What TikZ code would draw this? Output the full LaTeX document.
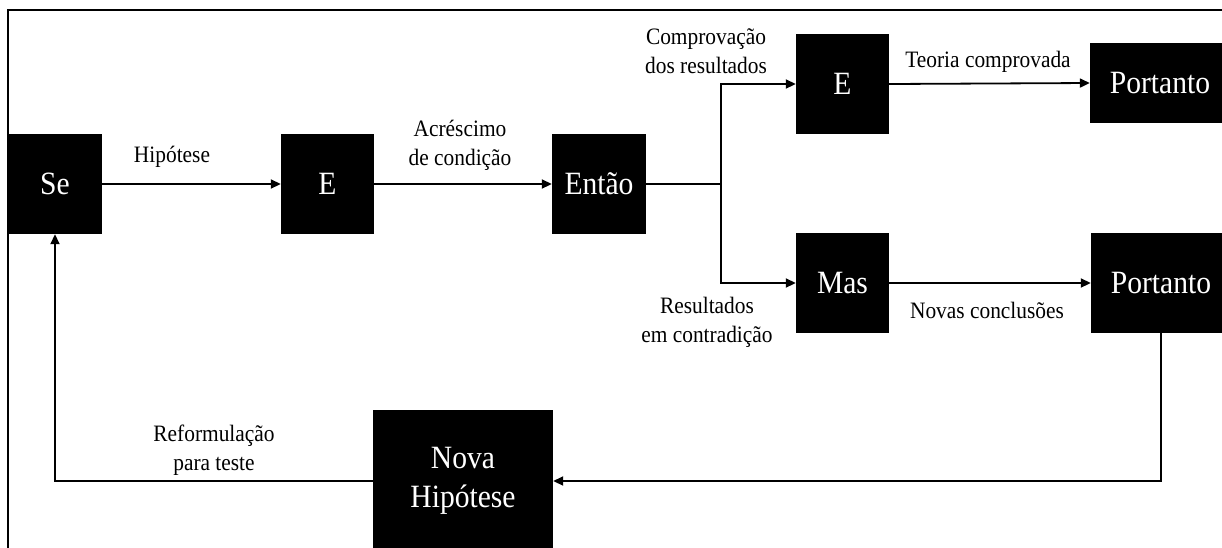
\documentclass[tikz,border=0pt]{standalone}
\usepackage{fontspec}
\setmainfont{Liberation Serif}[FakeStretch=0.91]
\usetikzlibrary{arrows.meta}
\begin{document}
\begin{tikzpicture}[x=1pt,y=-1pt,
  blk/.style={fill=black,draw=none,text=white,inner sep=0pt,font=\fontsize{32.5}{39}\selectfont,align=center},
  lbl/.style={inner sep=0pt,align=center,font=\fontsize{23.5}{29}\selectfont},
  conn/.style={line width=1.8pt,-{Triangle[length=10pt,width=9pt]}},
  plain/.style={line width=1.8pt}]
\useasboundingbox (0,0) rectangle (1222,547);
\draw[line width=1.6pt] (8,560) -- (8,10) -- (1240,10);
% boxes
\node[blk,minimum width=94pt,minimum height=100pt] (se) at (55,184) {Se};
\node[blk,minimum width=93pt,minimum height=100pt] (e1) at (327.5,184) {E};
\node[blk,minimum width=94pt,minimum height=100pt] (entao) at (599,184) {Então};
\node[blk,minimum width=93pt,minimum height=100pt] (e2) at (842.5,84) {E};
\node[blk,minimum width=93pt,minimum height=100pt] (mas) at (842.5,283) {Mas};
\node[blk,minimum width=140pt,minimum height=80pt] (p1) at (1160,83) {Portanto};
\node[blk,minimum width=140pt,minimum height=100pt] (p2) at (1161,283) {Portanto};
\node[blk,minimum width=180pt,minimum height=142pt] (nova) at (463,481) {Nova\\Hipótese};
\coordinate (branch) at (721,184);
% connectors
\draw[conn] (se.east) -- (e1.west);
\draw[conn] (e1.east) -- (entao.west);
\draw[plain] (entao.east) -- (branch);
\draw[conn] (branch) |- (e2.west);
\draw[conn] (branch) |- (mas.west);
\draw[conn] (e2.east) -- (p1.west);
\draw[conn] (mas.east) -- (p2.west);
\draw[conn] (p2.south) |- (nova.east);
\draw[conn] (nova.west) -| (se.south);
% labels
\node[lbl] (l1) at (172,157) {Hipótese};
\node[lbl] (l2) at (460,145) {Acréscimo\\de condição};
\node[lbl] (l3) at (706,51) {Comprovação\\dos resultados};
\node[lbl] (l4) at (988,62) {Teoria comprovada};
\node[lbl] (l5) at (707,322) {Resultados\\em contradição};
\node[lbl] (l6) at (987,310) {Novas conclusões};
\node[lbl] (l7) at (214,450) {Reformulação\\para teste};
\end{tikzpicture}
\end{document}
